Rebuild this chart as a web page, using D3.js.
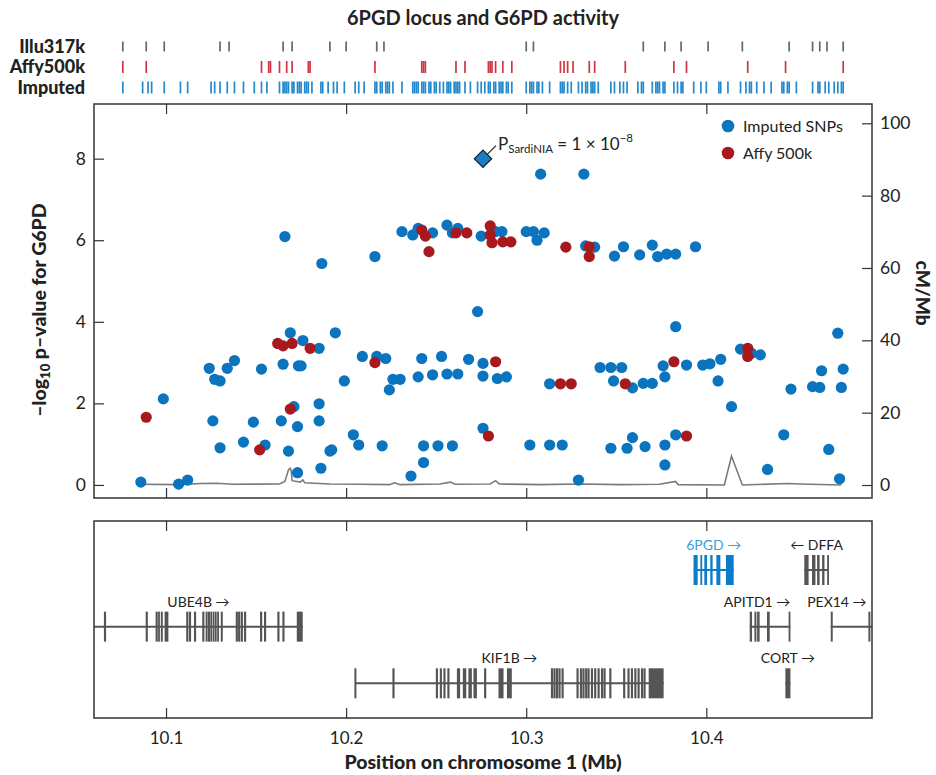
<!DOCTYPE html>
<html><head><meta charset="utf-8">
<script src="https://cdn.jsdelivr.net/npm/d3@7"></script>
<style>body{margin:0;background:#fff}svg{display:block}</style>
</head><body>
<svg id="chart" width="936" height="775"></svg>
<script>
// ---------------- DATA (positions in kb on chromosome 1) ----------------
const chartTitle = "6PGD locus and G6PD activity";
const platformRows = ["Illu317k", "Affy500k", "Imputed"];
const illuTickKb = [10076,10089,10099,10130,10135,10165,10170,10191,10200,10217,10221,10300,10304,10365,10377,10386,10401,10420,10446,10459,10463,10467,10476];
const affyTickKb = [10076,10089,10153,10157,10158,10163,10167,10170,10179,10180,10216,10242,10243,10244,10261,10266,10279,10280,10281,10283,10287,10292,10319,10321,10323,10326,10335,10338,10355,10382,10389,10423,10444,10476];
const imputedTickKb = [10076,10087,10090,10092,10099,10108,10112,10125,10127,10130,10134,10138,10143,10149,10153,10156,10163,10165,10166,10167,10168,10170,10171,10173,10174,10175,10177,10178,10179,10181,10186,10187,10190,10193,10195,10199,10205,10207,10210,10216,10217,10219,10220,10222,10223,10224,10226,10231,10237,10238,10239,10240,10242,10243,10244,10246,10247,10249,10250,10252,10254,10256,10257,10258,10260,10261,10262,10263,10266,10269,10273,10275,10277,10279,10280,10282,10283,10285,10286,10287,10289,10290,10292,10300,10302,10303,10304,10306,10307,10309,10313,10319,10320,10321,10323,10325,10329,10331,10333,10334,10336,10337,10338,10340,10347,10349,10352,10354,10356,10362,10364,10365,10370,10372,10373,10374,10376,10377,10382,10384,10386,10387,10393,10397,10400,10407,10408,10412,10419,10422,10424,10425,10428,10432,10436,10442,10443,10445,10446,10450,10459,10462,10463,10466,10468,10471,10473,10475,10476];

const imputedKb = [10086,10098.5,10107,10112,10124,10127,10130,10134,10138,10126,10130,10143,10148.5,10153,10155,10164,10165,10166,10168,10169,10171,10173,10173,10173.5,10175,10176,10185,10186.5,10185,10185,10186,10191,10192,10194,10199,10204,10207,10209,10216,10217,10222,10220,10226,10224,10230,10231,10237,10240,10248,10256,10259,10262,10275,10283,10286.5,10300,10304,10310,10306,10308,10332,10333,10338,10349,10354,10363,10370,10373,10378,10383,10394,10273,10240,10248,10256,10262,10242,10253,10268,10276,10276,10284,10289,10313,10341,10347,10353,10348.5,10359,10365,10370,10377,10376,10383,10276,10243,10251,10259,10243,10236,10302,10313,10320,10329,10347,10356,10359,10366,10377,10377,10383,10389,10398,10402,10408,10406.5,10414,10419,10425,10430,10434,10443,10447,10459,10463,10464,10468,10473,10475,10476,10474];
const imputedP  = [0.07,2.11,0.02,0.12,2.86,2.59,2.55,2.86,3.05,1.57,0.91,1.05,1.54,2.84,0.98,1.57,2.96,6.09,0.83,3.73,1.92,1.43,0.30,2.92,2.92,3.54,3.35,5.43,1.99,1.57,0.41,0.83,0.86,3.73,2.55,1.23,0.98,3.15,5.60,3.15,3.10,0.96,2.59,2.33,2.59,6.21,6.13,6.29,6.18,6.37,6.18,6.29,6.10,6.21,6.21,6.21,6.21,6.18,6.00,7.62,7.62,5.86,5.83,5.61,5.84,5.64,5.88,5.60,5.66,5.66,5.84,4.25,2.65,2.70,2.72,2.72,3.10,3.15,3.08,2.98,2.67,2.61,2.65,2.48,2.88,2.88,2.88,2.55,2.38,2.49,2.49,2.65,2.92,3.88,1.39,0.96,0.96,0.96,0.55,0.22,0.98,0.98,0.98,0.12,0.90,0.90,1.16,0.94,0.98,0.49,1.23,2.94,2.94,2.97,3.08,2.55,1.92,3.33,3.23,3.19,0.38,1.23,2.35,2.41,2.39,2.80,0.87,3.72,2.39,2.84,0.15];

const affyKb = [10089,10152,10162,10165,10170,10169,10180,10216,10242,10244,10246,10261,10267,10280,10280,10281,10287,10291.5,10283,10279,10322,10335,10335,10319,10325,10355,10382,10389,10423,10423];
const affyP  = [1.66,0.86,3.47,3.41,3.47,1.86,3.35,3.00,6.25,6.10,5.72,6.18,6.18,6.35,6.13,5.94,5.96,5.96,3.02,1.20,5.83,5.84,5.60,2.48,2.48,2.48,3.02,1.20,3.35,3.15];

const sardiniaKb = [10276];
const sardiniaP = [8.0];

const recombKb   = [10086.5,10107,10119,10128,10137,10163,10166,10168,10169,10169.5,10170,10174.5,10176,10177,10191,10208,10224,10227,10230,10252,10258,10260.5,10280,10283,10285,10308,10330,10352,10374,10383,10384.4,10410,10414,10420,10445,10452,10475];
const recombRate = [0.2,0.1,0.4,0.5,0.2,0.3,1.0,4.2,4.6,4.0,1.2,0.8,1.4,0.6,0.3,0.2,0.1,0.6,0.1,0.3,0.8,0.2,0.3,1.2,0.3,0.1,0.3,0.1,0.2,1.0,0.1,0.0,8.0,0.0,0.4,0.3,0.0];

const xTickKb = [10100, 10200, 10300, 10400];
const pTicks = [0, 2, 4, 6, 8];
const cmTicks = [0, 20, 40, 60, 80, 100];

const geneNames  = ["UBE4B","KIF1B","6PGD","DFFA","APITD1","PEX14","CORT"];
const geneStrand = ["+","+","+","-","+","+","+"];
const geneRow    = ["b","c","a","a","b","b","c"];
const geneStart  = [10055,10205,10393,10454.4,10424.1,10469.1,10443.9];
const geneEnd    = [10176,10376.3,10415.2,10468,10446.7,10500,10446.7];
const geneExons  = [
  [[10065.5,10066.7],[10088.7,10089.9],[10094.2,10095.4],[10095.6,10096.6],[10097.1,10098.2],[10099.2,10101.3],[10111.2,10112.4],[10112.7,10113.9],[10115.5,10116.7],[10120.1,10121.3],[10122,10123.1],[10123.3,10124.4],[10124.6,10125.6],[10125.9,10126.9],[10127.1,10128.1],[10128.4,10129.4],[10130.4,10131.5],[10138.7,10139.9],[10140,10141.2],[10141.5,10142.7],[10143.3,10144.5],[10152.2,10153.4],[10154.4,10155.6],[10161.8,10163],[10164.6,10165.8],[10172.6,10175.9]],
  [[10204.6,10205.7],[10225.7,10226.9],[10249.8,10251],[10252,10253.2],[10254,10255.2],[10256.2,10257.4],[10261.5,10263.3],[10264.8,10266.7],[10267.9,10269.8],[10270.7,10272.6],[10276.6,10277.8],[10284.6,10287.4],[10289.3,10292],[10313.7,10314.9],[10315.1,10316.3],[10316.5,10317.7],[10317.9,10319.1],[10319.6,10320.8],[10327.9,10329.1],[10329.8,10331],[10331.2,10332.4],[10332.7,10333.9],[10334,10335.2],[10335.9,10337.1],[10337.7,10338.9],[10339.6,10340.8],[10341.5,10342.7],[10342.9,10344.1],[10346.1,10347.3],[10353.8,10355],[10356.2,10357.4],[10358.1,10359.3],[10360,10361.2],[10361.8,10363],[10363.7,10364.9],[10365.1,10366.3],[10368,10376.3]],
  [[10392.9,10395.2],[10396.7,10397.6],[10398.9,10400.4],[10402.2,10403.5],[10405.6,10407.8],[10410.9,10415.2]],
  [[10454.4,10456.8],[10458.7,10460.6],[10461.5,10462.9],[10464.3,10465.6],[10467.1,10468]],
  [[10424.1,10425.4],[10426.7,10427.8],[10428.2,10429.6],[10433.7,10435.2],[10445.7,10446.7]],
  [[10469.1,10470.2],[10490,10491.1]],
  [[10443.9,10446.7]]
];
const highlightGene = "6PGD";

// ---------------- LAYOUT / STYLE ----------------
const F = "Lato, 'Open Sans', 'DejaVu Sans', sans-serif";
const C = {
  blue: "#0a74bf", red: "#a8191e", illu: "#555555", affyTick: "#c9202f", impTick: "#0a7cc8",
  gene: "#555555", geneHi: "#0a7cc8", geneHiLabel: "#3b9ddb", recomb: "#7a7a7a", frame: "#333333", text: "#222222"
};
const fr = {left: 94, right: 872, mainTop: 104, mainBottom: 498, geneTop: 521, geneBottom: 718};
const labelDx = {APITD1: -13, PEX14: -14.5};

const svg = d3.select("#chart");

const x = d3.scaleLinear().domain([10060, 10492]).range([fr.left, fr.right]);
const y = d3.scaleLinear().domain([-0.32, 9.34]).range([fr.mainBottom, fr.mainTop]);
const yR = d3.scaleLinear().domain([-3.59, 105.33]).range([fr.mainBottom, fr.mainTop]);
const rowY = d3.scalePoint().domain(platformRows).range([46.5, 87.5]);
const geneY = d3.scalePoint().domain(["a","b","c"]).range([570, 683.3]);

// Title
svg.append("text").attr("x", 483).attr("y", 25).attr("text-anchor", "middle")
  .attr("font-family", F).attr("font-weight", 700).attr("font-size", 20).attr("fill", C.text).text(chartTitle);

// Platform tick rows
const platformTicks = [illuTickKb, affyTickKb, imputedTickKb];
const platformColors = [C.illu, C.affyTick, C.impTick];
platformRows.forEach((r, i) => {
  svg.append("text").attr("x", 85).attr("y", rowY(r)).attr("dy", "0.36em").attr("text-anchor", "end")
    .attr("font-family", F).attr("font-weight", 900).attr("font-size", 18).attr("fill", C.text).text(r);
  const h = i === 0 ? 5 : 6;
  svg.append("g").selectAll("line").data(platformTicks[i]).join("line")
    .attr("x1", d => x(d)).attr("x2", d => x(d))
    .attr("y1", rowY(r) - h).attr("y2", rowY(r) + h)
    .attr("stroke", platformColors[i]).attr("stroke-width", 1.7).attr("stroke-opacity", 0.9);
});

// Clip paths
const defs = svg.append("defs");
defs.append("clipPath").attr("id", "clipMain").append("rect")
  .attr("x", fr.left).attr("y", fr.mainTop).attr("width", fr.right - fr.left).attr("height", fr.mainBottom - fr.mainTop);
defs.append("clipPath").attr("id", "clipGene").append("rect")
  .attr("x", fr.left).attr("y", fr.geneTop).attr("width", fr.right - fr.left).attr("height", fr.geneBottom - fr.geneTop);

// Main panel axes
function styleAxis(g, size) {
  g.select(".domain").remove();
  g.selectAll(".tick line").attr("stroke", C.frame).attr("stroke-width", 1.2);
  g.selectAll(".tick text").attr("font-family", F).attr("font-size", size).attr("fill", C.text);
}
svg.append("g").attr("transform", `translate(${fr.left},0)`)
  .call(d3.axisLeft(y).tickValues(pTicks).tickSize(-10).tickPadding(8).tickFormat(d3.format("d")))
  .call(g => styleAxis(g, 17.5));
svg.append("g").attr("transform", `translate(${fr.right},0)`)
  .call(d3.axisRight(yR).tickValues(cmTicks).tickSize(-10).tickPadding(8).tickFormat(d3.format("d")))
  .call(g => styleAxis(g, 17.5));
svg.append("g").attr("transform", `translate(0,${fr.mainTop})`)
  .call(d3.axisTop(x).tickValues(xTickKb).tickSize(-10).tickFormat(""))
  .call(g => styleAxis(g, 16));
svg.append("g").attr("transform", `translate(0,${fr.mainBottom})`)
  .call(d3.axisBottom(x).tickValues(xTickKb).tickSize(-10).tickFormat(""))
  .call(g => styleAxis(g, 16));

// Recombination rate line
const main = svg.append("g").attr("clip-path", "url(#clipMain)");
const recomb = recombKb.map((k, i) => [k, recombRate[i]]);
main.append("path").datum(recomb)
  .attr("d", d3.line().x(d => x(d[0])).y(d => yR(d[1])))
  .attr("fill", "none").attr("stroke", C.recomb).attr("stroke-width", 1.6);

// Points
const imputed = imputedKb.map((k, i) => ({k, p: imputedP[i]}));
const affy = affyKb.map((k, i) => ({k, p: affyP[i]}));
main.append("g").selectAll("circle").data(imputed).join("circle")
  .attr("cx", d => x(d.k)).attr("cy", d => y(d.p)).attr("r", 5.6).attr("fill", C.blue);
main.append("g").selectAll("circle").data(affy).join("circle")
  .attr("cx", d => x(d.k)).attr("cy", d => y(d.p)).attr("r", 5.6).attr("fill", C.red);

// SardiNIA diamond + annotation
const sx = x(sardiniaKb[0]), sy = y(sardiniaP[0]);
main.append("path").attr("d", d3.symbol(d3.symbolSquare, 150)())
  .attr("transform", `translate(${sx},${sy}) rotate(45)`)
  .attr("fill", "#1a7ec6").attr("stroke", "#1b1b1b").attr("stroke-width", 1.2);
svg.append("line").attr("x1", sx + 4).attr("y1", sy - 4).attr("x2", sx + 13).attr("y2", sy - 13)
  .attr("stroke", "#222").attr("stroke-width", 1.2);
const ann = svg.append("text").attr("x", sx + 15).attr("y", sy - 9)
  .attr("font-family", F).attr("font-size", 17).attr("fill", C.text);
ann.append("tspan").text("P");
ann.append("tspan").attr("font-size", 11.5).attr("dy", 3).text("SardiNIA");
ann.append("tspan").attr("dy", -3).text(" = 1 × 10");
ann.append("tspan").attr("font-size", 11.5).attr("dy", -8).text("−8");

// Legend
const legend = [["Imputed SNPs", C.blue], ["Affy 500k", C.red]];
legend.forEach((l, i) => {
  const ly = 126 + i * 27;
  svg.append("circle").attr("cx", 728).attr("cy", ly).attr("r", 6.3).attr("fill", l[1]);
  svg.append("text").attr("x", 743).attr("y", ly).attr("dy", "0.35em")
    .attr("font-family", F).attr("font-size", 16).attr("fill", C.text).text(l[0]);
});

// Axis titles
const yt = svg.append("text").attr("transform", "translate(46,310) rotate(-90)").attr("text-anchor", "middle")
  .attr("font-family", F).attr("font-weight", 900).attr("font-size", 19.5).attr("fill", C.text);
yt.append("tspan").text("–log");
yt.append("tspan").attr("font-size", 13).attr("dy", 4).text("10");
yt.append("tspan").attr("dy", -4).text(" p–value for G6PD");
svg.append("text").attr("transform", "translate(916,293) rotate(90)").attr("text-anchor", "middle")
  .attr("font-family", F).attr("font-weight", 900).attr("font-size", 19).attr("fill", C.text).text("cM/Mb");

// Gene panel axes
svg.append("g").attr("transform", `translate(0,${fr.geneTop})`)
  .call(d3.axisTop(x).tickValues(xTickKb).tickSize(-10).tickFormat(""))
  .call(g => styleAxis(g, 16));
svg.append("g").attr("transform", `translate(0,${fr.geneBottom})`)
  .call(d3.axisBottom(x).tickValues(xTickKb).tickSize(-10).tickPadding(14).tickFormat(d => d3.format(".1f")(d / 1000)))
  .call(g => styleAxis(g, 17));
svg.append("text").attr("x", 483).attr("y", 769).attr("text-anchor", "middle")
  .attr("font-family", F).attr("font-weight", 900).attr("font-size", 19.5).attr("fill", C.text)
  .text("Position on chromosome 1 (Mb)");

// Genes
const genesG = svg.append("g").attr("clip-path", "url(#clipGene)");
geneNames.forEach((name, i) => {
  const col = name === highlightGene ? C.geneHi : C.gene;
  const cy = geneY(geneRow[i]);
  genesG.append("line").attr("x1", x(geneStart[i])).attr("x2", x(geneEnd[i]))
    .attr("y1", cy).attr("y2", cy).attr("stroke", col).attr("stroke-width", 2);
  genesG.append("g").selectAll("rect").data(geneExons[i]).join("rect")
    .attr("x", d => x(d[0])).attr("width", d => Math.max(1.8, x(d[1]) - x(d[0])))
    .attr("y", cy - 15).attr("height", 30).attr("fill", col);
  const vis0 = Math.max(x(geneStart[i]), fr.left), vis1 = Math.min(x(geneEnd[i]), fr.right);
  const lx = (vis0 + vis1) / 2 + (labelDx[name] || 0);
  svg.append("text").attr("x", lx).attr("y", cy - 20).attr("text-anchor", "middle")
    .attr("font-family", F).attr("font-size", 14).attr("fill", name === highlightGene ? C.geneHiLabel : C.text)
    .text(geneStrand[i] === "+" ? `${name} →` : `← ${name}`);
});

// Frames
[[fr.mainTop, fr.mainBottom], [fr.geneTop, fr.geneBottom]].forEach(([t, b]) => {
  svg.append("rect").attr("x", fr.left).attr("y", t).attr("width", fr.right - fr.left).attr("height", b - t)
    .attr("fill", "none").attr("stroke", C.frame).attr("stroke-width", 1.5);
});
</script>
</body></html>
